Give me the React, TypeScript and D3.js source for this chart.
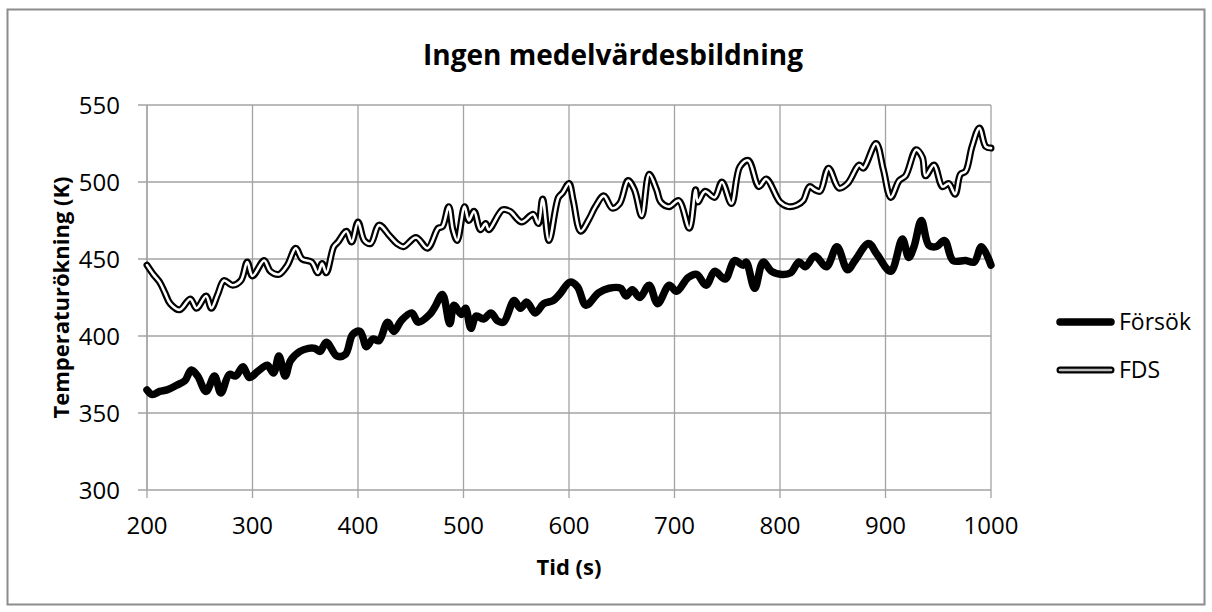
import React from "react";
import * as d3 from "d3";

const TITLE = "Ingen medelvärdesbildning";
const X_LABEL = "Tid (s)";
const Y_LABEL = "Temperaturökning (K)";
const X_TICKS = [200, 300, 400, 500, 600, 700, 800, 900, 1000];
const Y_TICKS = [300, 350, 400, 450, 500, 550];
const SERIES_NAMES = ["Försök", "FDS"];

const forsokTime = [
  200, 205, 212, 219, 228, 236, 242, 248, 256, 264, 270, 278, 284, 291, 297, 305, 314, 320, 325, 331,
  336, 345, 353, 359, 364, 370, 380, 388, 395, 402, 408, 414, 420, 428, 434, 441, 451, 457, 468, 473,
  480, 487, 491, 498, 502, 507, 512, 519, 526, 532, 538, 548, 554, 560, 568, 576, 585, 591, 601, 608,
  616, 628, 638, 649, 654, 660, 667, 676, 684, 695, 702, 713, 721, 730, 738, 748, 757, 765, 768, 776,
  784, 792, 802, 810, 818, 824, 833, 844, 854, 864, 871, 884, 892, 905, 916, 922, 927, 934, 941, 948,
  956, 964, 976, 984, 991, 1000,
];
const forsokTemp = [
  365, 362, 364, 365, 368, 371, 378, 374, 364, 374, 363, 375, 374, 380, 373, 377, 381, 376, 387, 374,
  384, 390, 392, 392, 390, 396, 387, 388, 401, 403, 393, 398, 397, 409, 403, 410, 415, 409, 414, 419,
  427, 408, 420, 414, 418, 405, 413, 411, 415, 410, 409, 423, 418, 422, 415, 421, 423, 427, 435, 432,
  420, 428, 431, 431, 426, 430, 425, 433, 421, 433, 429, 438, 440, 433, 442, 437, 449, 446, 448, 431,
  448, 442, 440, 441, 448, 445, 452, 445, 458, 443, 449, 460, 453, 442, 463, 451, 458, 475, 459, 458,
  462, 449, 449, 448, 458, 446,
];

const fdsTime = [
  200, 206, 212, 217, 222, 231, 241, 247, 256, 261, 267, 273, 281, 289, 295, 300, 311, 317, 325, 333,
  341, 347, 356, 362, 366, 370, 377, 381, 389, 394, 400, 406, 412, 420, 430, 437, 443, 455, 466, 476,
  480, 486, 490, 494, 501, 505, 510, 516, 521, 524, 537, 544, 555, 566, 571, 575, 581, 590, 594, 600,
  604, 611, 619, 625, 633, 641, 648, 656, 662, 669, 676, 683, 687, 695, 704, 714, 720, 722, 729, 738,
  745, 754, 762, 770, 780, 787, 800, 808, 816, 822, 828, 833, 838, 846, 856, 864, 875, 879, 891, 898,
  905, 913, 919, 929, 935, 938, 946, 954, 960, 966, 971, 976, 982, 989, 995, 1000,
];
const fdsTemp = [
  446, 440, 435, 428, 421, 417, 424, 418, 426, 418, 427, 436, 433, 436, 448, 439, 449, 442, 440, 446,
  457, 450, 448, 441, 447, 441, 458, 461, 468, 461, 474, 462, 460, 472, 465, 460, 458, 464, 457, 470,
  471, 484, 469, 462, 484, 475, 481, 469, 473, 469, 482, 481, 474, 479, 473, 489, 462, 490, 493, 499,
  488, 468, 476, 484, 491, 483, 486, 501, 495, 478, 505, 495, 487, 484, 488, 470, 495, 487, 494, 490,
  500, 486, 510, 514, 497, 502, 487, 484, 485, 488, 497, 495, 494, 509, 496, 499, 511, 509, 525, 508,
  490, 501, 504, 521, 516, 504, 511, 497, 499, 492, 505, 507, 523, 535, 523, 522,
];

const W = 1212;
const H = 612;
const FONT = "'Open Sans', 'Noto Sans', sans-serif";
const GRID = "#a3a3a3";

export default function App() {
  const x = d3.scaleLinear().domain([200, 1000]).range([147, 991]);
  const y = d3.scaleLinear().domain([300, 550]).range([490, 105]);

  const line = d3
    .line<[number, number]>()
    .x((d) => x(d[0]))
    .y((d) => y(d[1]))
    .curve(d3.curveCatmullRom.alpha(0.5));

  const forsokPts: [number, number][] = forsokTime.map((t, i) => [t, forsokTemp[i]]);
  const fdsPts: [number, number][] = fdsTime.map((t, i) => [t, fdsTemp[i]]);
  const forsokPath = line(forsokPts) || "";
  const fdsPath = line(fdsPts) || "";

  const [x0, x1] = x.range();
  const [yb, yt] = y.range();

  const legendY = [322, 370];

  return (
    <svg
      width={W}
      height={H}
      style={{ position: "absolute", left: 0, top: 0, background: "#fff" }}
      fontFamily={FONT}
    >
      <rect x={0} y={0} width={W} height={H} fill="#fff" />
      <rect x={7.5} y={9.5} width={1197} height={595} fill="#fff" stroke="#8c8c8c" strokeWidth={2} />

      {/* grid */}
      {Y_TICKS.map((v) => (
        <line key={"gy" + v} x1={138} x2={x1} y1={y(v)} y2={y(v)} stroke={GRID} strokeWidth={1.3} />
      ))}
      {X_TICKS.map((v) => (
        <line key={"gx" + v} x1={x(v)} x2={x(v)} y1={yt} y2={yb + 8} stroke={GRID} strokeWidth={1.3} />
      ))}
      <line x1={x0} x2={x0} y1={yt} y2={yb} stroke={GRID} strokeWidth={1.3} />

      {/* tick labels */}
      {Y_TICKS.map((v) => (
        <text key={"ly" + v} x={120} y={y(v)} dy="0.36em" textAnchor="end" fontSize={24} fill="#000">
          {v}
        </text>
      ))}
      {X_TICKS.map((v) => (
        <text key={"lx" + v} x={x(v)} y={534} textAnchor="middle" fontSize={24} fill="#000">
          {v}
        </text>
      ))}

      {/* series */}
      <path d={forsokPath} fill="none" stroke="#000" strokeWidth={7.5} strokeLinejoin="round" strokeLinecap="round" />
      <path d={fdsPath} fill="none" stroke="#000" strokeWidth={7} strokeLinejoin="round" strokeLinecap="round" />
      <path d={fdsPath} fill="none" stroke="#fff" strokeWidth={2.6} strokeLinejoin="round" strokeLinecap="round" />

      {/* titles */}
      <text x={613} y={65} textAnchor="middle" fontSize={28} fontWeight="bold" fill="#000">
        {TITLE}
      </text>
      <text x={569} y={575} textAnchor="middle" fontSize={22} fontWeight="bold" fill="#000">
        {X_LABEL}
      </text>
      <text
        transform={`translate(69, ${(yt + yb) / 2}) rotate(-90)`}
        textAnchor="middle"
        fontSize={22}
        fontWeight="bold"
        fill="#000"
      >
        {Y_LABEL}
      </text>

      {/* legend */}
      <line x1={1060} x2={1111} y1={legendY[0]} y2={legendY[0]} stroke="#000" strokeWidth={7.5} strokeLinecap="round" />
      <text x={1119} y={legendY[0]} dy="0.36em" fontSize={23} fill="#000">
        {SERIES_NAMES[0]}
      </text>
      <line x1={1060} x2={1111} y1={legendY[1]} y2={legendY[1]} stroke="#000" strokeWidth={7} strokeLinecap="round" />
      <line x1={1060} x2={1111} y1={legendY[1]} y2={legendY[1]} stroke="#bdbdbd" strokeWidth={2.6} strokeLinecap="round" />
      <text x={1119} y={legendY[1]} dy="0.36em" fontSize={23} fill="#000">
        {SERIES_NAMES[1]}
      </text>
    </svg>
  );
}
